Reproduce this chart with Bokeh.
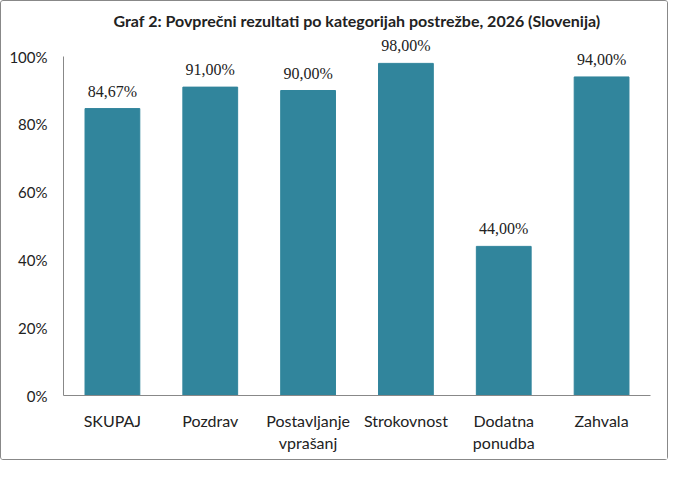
from bokeh.plotting import figure
from bokeh.models import Range1d, FixedTicker, ColumnDataSource, LabelSet
from bokeh.embed import file_html
from bokeh.resources import INLINE

# values
categories = ["SKUPAJ", "Pozdrav", "Postavljanje\nvprašanj", "Strokovnost",
              "Dodatna\nponudba", "Zahvala"]
values = [84.67, 91.00, 90.00, 98.00, 44.00, 94.00]
y_ticks = [0, 20, 40, 60, 80, 100]

FONT = "Lato"
BAR = "#31859C"
TXT = "#222222"

labels = [f"{v:.2f}".replace(".", ",") + "%" for v in values]
src = ColumnDataSource(data=dict(cat=categories, val=values, lab=labels))

# range goes a bit above 100 so the 98% label fits, axis line stops at 100
p = figure(x_range=categories, y_range=Range1d(0, 108),
           width=668, height=460, output_backend="svg", toolbar_location=None,
           title="Graf 2: Povprečni rezultati po kategorijah postrežbe, 2026 (Slovenija)",
           min_border_left=62, min_border_right=19, min_border_top=28, min_border_bottom=66)
p.styles = {"border": "1px solid #888888", "border-radius": "3px"}

p.title.align = "center"
p.title.text_font = FONT
p.title.text_font_size = "16px"
p.title.text_font_style = "bold"
p.title.text_color = TXT
p.title.standoff = 0
p.title.offset = 0

p.vbar(x="cat", top="val", width=0.56, source=src, color=BAR)
p.add_layout(LabelSet(x="cat", y="val", text="lab", source=src, text_align="center",
                      text_baseline="bottom", y_offset=9, text_font_size="16px",
                      text_font=FONT, text_color=TXT))

p.outline_line_color = None
p.grid.grid_line_color = None

p.yaxis.ticker = FixedTicker(ticks=y_ticks)
p.yaxis.bounds = (0, 100)
p.yaxis.major_label_overrides = {t: f"{t}%" for t in y_ticks}
for ax in (p.xaxis[0], p.yaxis[0]):
    ax.axis_line_color = "#888888"
    ax.major_tick_line_color = None
    ax.minor_tick_line_color = None
    ax.major_label_text_font = FONT
    ax.major_label_text_color = TXT
p.yaxis.major_label_text_font_size = "15px"
p.xaxis.major_label_text_font_size = "16px"
p.yaxis.major_label_standoff = 10
p.xaxis.major_label_standoff = 9

open("out.html", "w").write(file_html(p, INLINE))
